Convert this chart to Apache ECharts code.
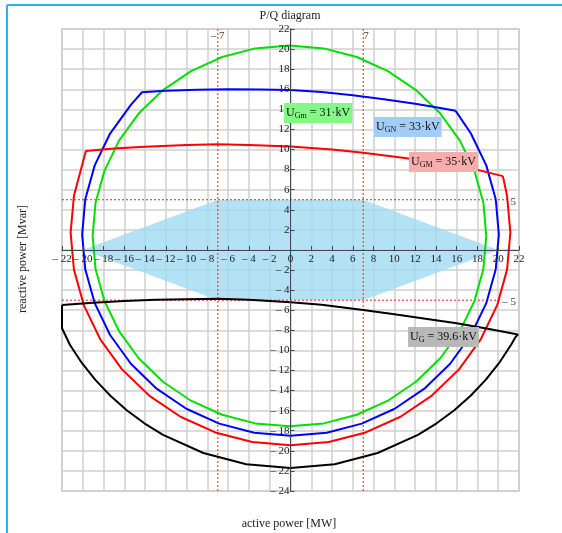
<!DOCTYPE html>
<html>
<head>
<meta charset="utf-8">
<script src="https://cdn.jsdelivr.net/npm/echarts@6/dist/echarts.min.js"></script>
<style>
  html, body { margin: 0; padding: 0; background: #fff; }
  #chart { width: 562px; height: 533px; }
</style>
</head>
<body>
<div id="chart"></div>
<script>
// P/Q capability diagram (P in MW, Q in Mvar)
const greenCurve = [
  [18.85, 1.4], [18.57, 4.7], [17.71, 7.88], [16.31, 10.88], [14.42, 13.58], [12.08, 15.92],
  [9.38, 17.81], [6.38, 19.21], [3.2, 20.07], [-0.1, 20.35], [-3.4, 20.07], [-6.58, 19.21],
  [-9.58, 17.81], [-12.28, 15.92], [-14.62, 13.58], [-16.51, 10.88], [-17.91, 7.88], [-18.77, 4.7],
  [-19.05, 1.4], [-18.77, -1.9], [-17.91, -5.08], [-16.51, -8.08], [-14.62, -10.78], [-12.28, -13.12],
  [-9.58, -15.01], [-6.58, -16.41], [-3.4, -17.27], [-0.1, -17.55], [3.2, -17.27], [6.38, -16.41],
  [9.38, -15.01], [12.08, -13.12], [14.42, -10.78], [16.31, -8.08], [17.71, -5.08], [18.57, -1.9],
  [18.85, 1.4]
]
const blueCurve = [
  [15.9, 13.85], [17.37, 11.59], [18.85, 8.42], [19.76, 5.05], [20.06, 1.56], [19.76, -1.93],
  [18.85, -5.3], [17.37, -8.47], [15.37, -11.33], [12.89, -13.81], [10.03, -15.81], [6.86, -17.29],
  [3.49, -18.2], [0, -18.5], [-3.49, -18.2], [-6.86, -17.29], [-10.03, -15.81], [-12.89, -13.81],
  [-15.37, -11.33], [-17.37, -8.47], [-18.85, -5.3], [-19.76, -1.93], [-20.06, 1.56], [-19.76, 5.05],
  [-18.85, 8.42], [-17.37, 11.59], [-15.37, 14.45], [-14.3, 15.7], [-12, 15.85], [-9, 15.95],
  [-6, 16.0], [-3, 15.98], [0, 15.92], [3, 15.72], [6, 15.4], [9, 15.0], [12, 14.55], [14, 14.2],
  [15.9, 13.85]
]
const redCurve = [
  [20.45, 7.35], [20.85, 5.4], [21.17, 1.72], [20.85, -1.96], [19.89, -5.52], [18.33, -8.87],
  [16.22, -11.89], [13.61, -14.5], [10.59, -16.61], [7.24, -18.17], [3.68, -19.13], [0, -19.45],
  [-3.68, -19.13], [-7.24, -18.17], [-10.59, -16.61], [-13.61, -14.5], [-16.22, -11.89], [-18.33, -8.87],
  [-19.89, -5.52], [-20.85, -1.96], [-21.17, 1.72], [-20.85, 5.4], [-19.7, 9.85], [-17, 10.1],
  [-14, 10.28], [-10, 10.45], [-7, 10.52], [-4, 10.45], [0, 10.3], [4, 10.0], [7, 9.67],
  [11, 9.15], [14, 8.7], [17.5, 8.1], [20.45, 7.35]
]
const blackCurve = [
  [-22, -5.47], [-19, -5.25], [-16, -5.08], [-13, -4.97], [-10, -4.9], [-7, -4.87], [-4, -4.95],
  [0, -5.2], [3, -5.45], [7, -5.97], [10, -6.4], [13, -6.85], [16, -7.3], [19, -7.85], [21.9, -8.42],
  [21.68, -8.65], [21.24, -9.44], [20.09, -11.25], [18.79, -12.94], [17.34, -14.51], [15.77, -15.96],
  [14.07, -17.26], [12.27, -18.41], [8.39, -20.22], [4.26, -21.33], [0, -21.7], [-4.26, -21.33],
  [-8.39, -20.22], [-12.27, -18.41], [-14.07, -17.26], [-15.77, -15.96], [-17.34, -14.51],
  [-18.79, -12.94], [-20.09, -11.25], [-21.24, -9.44], [-22, -7.8], [-22, -5.47]
]
const operatingArea = [[-20, 0], [-7, 5], [7, 5], [20, 0], [7, -5], [-7, -5]]
const limitP = [-7, 7]
const limitQ = [5, -5]
const curveLabels = [
  { sub: 'Gm', value: '31', bg: '#84f884' },
  { sub: 'GN', value: '33', bg: '#a3cdf7' },
  { sub: 'GM', value: '35', bg: '#f8adad' },
  { sub: 'G', value: '39.6', bg: '#b8b8b8' }
]

const serif = '"Liberation Serif", "Times New Roman", serif'
const fmt = v => (v < 0 ? '\u2013 ' + (-v) : String(v))

const gridBox = { left: 62, right: 43, top: 29, bottom: 42 }
const plotW = 562 - gridBox.left - gridBox.right
const plotH = 533 - gridBox.top - gridBox.bottom
const axisColor = '#3c4852'
const gridLine = { lineStyle: { color: '#cfcfcf', width: 1.5 } }

const chart = echarts.init(document.getElementById('chart'))

const curve = (data, color) => ({
  type: 'line',
  data: data,
  showSymbol: false,
  silent: true,
  animation: false,
  z: 4,
  lineStyle: { color: color, width: 2 }
})

const guide = data => ({
  type: 'line',
  data: data,
  showSymbol: false,
  silent: true,
  animation: false,
  z: 3,
  lineStyle: { color: '#ff2020', width: 1, type: [2, 2] }
})

// axis 0 carries the grid lines, axis 1 the crossing axis with ticks and labels on top
const xBase = { type: 'value', min: -22, max: 22, interval: 2 }
const yBase = { type: 'value', min: -24, max: 22, interval: 2 }
const tickLabel = {
  fontFamily: serif, fontSize: 11, color: '#222',
  showMinLabel: true, showMaxLabel: true, hideOverlap: false
}

chart.setOption({
  animation: false,
  grid: Object.assign({ show: true, borderColor: '#c6c6c6', borderWidth: 1.5 }, gridBox),
  xAxis: [
    Object.assign({}, xBase, {
      axisLine: { show: false }, axisTick: { show: false }, axisLabel: { show: false },
      splitLine: gridLine
    }),
    Object.assign({}, xBase, {
      position: 'bottom',
      offset: -plotH * 24 / 46,
      z: 6,
      axisLine: { onZero: false, lineStyle: { color: axisColor } },
      axisTick: { show: true, inside: true, length: 4, lineStyle: { color: axisColor } },
      axisLabel: Object.assign({ formatter: fmt, margin: 4 }, tickLabel),
      splitLine: { show: false }
    })
  ],
  yAxis: [
    Object.assign({}, yBase, {
      axisLine: { show: false }, axisTick: { show: false }, axisLabel: { show: false },
      splitLine: gridLine
    }),
    Object.assign({}, yBase, {
      position: 'left',
      offset: -plotW / 2,
      z: 6,
      axisLine: { onZero: false, lineStyle: { color: axisColor } },
      axisTick: { show: true, inside: true, length: 4, lineStyle: { color: axisColor } },
      axisLabel: Object.assign({ formatter: v => (v === 0 ? '' : fmt(v)), margin: 1 }, tickLabel),
      splitLine: { show: false }
    })
  ],
  series: [
    {
      type: 'custom',
      data: operatingArea,
      silent: true,
      z: 2,
      renderItem: (params, api) => {
        if (params.dataIndex !== 0) return
        return {
          type: 'polygon',
          shape: { points: operatingArea.map(p => api.coord(p)) },
          style: { fill: 'rgba(161, 219, 242, 0.8)' }
        }
      }
    },
    guide([[limitP[0], -24], [limitP[0], 22]]),
    guide([[limitP[1], -24], [limitP[1], 22]]),
    guide([[-22, limitQ[0]], [20.9, limitQ[0]]]),
    guide([[-22, limitQ[1]], [20.2, limitQ[1]]]),
    curve(greenCurve, '#00e000'),
    curve(blueCurve, '#0000ff'),
    curve(redCurve, '#ff0000'),
    curve(blackCurve, '#000000')
  ]
})

// texts and frame drawn on top
const px = p => chart.convertToPixel({ gridIndex: 0 }, p)
const boxPos = [[284, 103], [374, 117], [409, 152], [408, 327]]
const labelText = curveLabels.map((l, i) => ({
  type: 'text',
  z: 10,
  x: boxPos[i][0],
  y: boxPos[i][1],
  style: {
    text: '{u|U}{s|' + l.sub + '}{u| = ' + l.value + '\u00b7kV}',
    backgroundColor: l.bg,
    padding: [3, 2, 3, 2],
    rich: {
      u: { font: '12px ' + serif, fill: '#111', lineHeight: 14 },
      s: { font: '8px ' + serif, fill: '#111', verticalAlign: 'bottom', lineHeight: 10 }
    }
  }
}))
const guideText = [
  { text: fmt(limitP[0]), pos: px([limitP[0], 22]), dx: -7, dy: 7, align: 'left' },
  { text: fmt(limitP[1]), pos: px([limitP[1], 22]), dx: 0, dy: 7, align: 'left' },
  { text: fmt(limitQ[0]), pos: px([22, limitQ[0]]), dx: -3, dy: 2, align: 'right' },
  { text: fmt(limitQ[1]), pos: px([22, limitQ[1]]), dx: -3, dy: 2, align: 'right' }
].map(t => ({
  type: 'text',
  z: 10,
  x: t.pos[0] + t.dx,
  y: t.pos[1] + t.dy,
  style: { text: t.text, font: '11px ' + serif, fill: '#444', align: t.align, verticalAlign: 'middle' }
}))

chart.setOption({
  graphic: [
    { type: 'line', shape: { x1: 7, y1: 5, x2: 562, y2: 5 }, style: { stroke: '#2ab4ee', lineWidth: 2 }, z: 10 },
    { type: 'line', shape: { x1: 7, y1: 5, x2: 7, y2: 533 }, style: { stroke: '#2ab4ee', lineWidth: 2 }, z: 10 },
    {
      type: 'text', x: 290, y: 16, z: 10,
      style: { text: 'P/Q diagram', font: '12px ' + serif, fill: '#222', align: 'center', verticalAlign: 'middle' }
    },
    {
      type: 'text', x: 289, y: 524, z: 10,
      style: { text: 'active power [MW]', font: '12px ' + serif, fill: '#222', align: 'center', verticalAlign: 'middle' }
    },
    {
      type: 'text', x: 23, y: 259, rotation: Math.PI / 2, z: 10,
      style: { text: 'reactive power [Mvar]', font: '12px ' + serif, fill: '#222', align: 'center', verticalAlign: 'middle' }
    }
  ].concat(labelText, guideText)
})
</script>
</body>
</html>
